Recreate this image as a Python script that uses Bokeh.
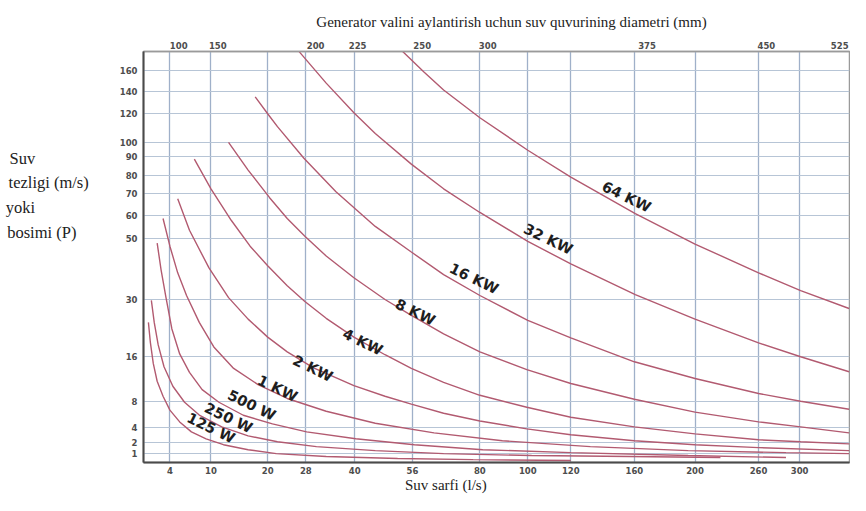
import numpy as np
from bokeh.plotting import figure
from bokeh.models import Range1d, FixedTicker, LinearAxis
from bokeh.core.properties import value
from bokeh.embed import file_html
from bokeh.resources import INLINE

# ---------------- data ----------------
flow_ticks = [4, 10, 20, 28, 40, 56, 80, 100, 120, 160, 200, 260, 300]          # Suv sarfi (l/s)
pressure_ticks = [1, 2, 4, 8, 16, 30, 50, 60, 70, 80, 90, 100, 120, 140, 160]   # P
diameter_labels = ["100", "150", "200", "225", "250", "300", "375", "450", "525"]  # mm

curve_names = ["125 W", "250 W", "500 W", "1 KW", "2 KW", "4 KW", "8 KW", "16 KW", "32 KW", "64 KW"]

q_125w = [0.86, 1.14, 1.57, 2.14, 3.0, 4.0, 5.43, 7.14, 9.29, 12.2, 16.55, 21.8, 33.0, 51.9, 77.6, 120]
p_125w = [24.4, 19.6, 14.8, 11.6, 8.9, 6.67, 4.9, 3.47, 2.53, 1.82, 1.36, 1.0, 0.73, 0.55, 0.45, 0.36]

q_250w = [1.29, 1.71, 2.29, 3.14, 4.43, 6.14, 8.29, 11.9, 16.55, 22.05, 30.6, 45.7, 67.1, 101.8, 157, 224]
p_250w = [29.8, 24.4, 18.9, 14.2, 10.7, 7.85, 5.93, 4.15, 2.93, 2.13, 1.64, 1.27, 1.0, 0.82, 0.73, 0.64]

q_500w = [2.14, 2.71, 3.43, 4.29, 5.43, 6.86, 8.71, 11.4, 15.7, 21.0, 28.2, 40.3, 56.7, 81.2, 120, 195.5, 286.7]
p_500w = [48.4, 39.7, 30.6, 22.8, 16.7, 13.2, 10.1, 7.85, 5.9, 4.6, 3.47, 2.53, 1.82, 1.36, 1.09, 0.82, 0.64]

q_1kw = [3.0, 4.0, 5.14, 6.43, 8.29, 10.5, 14.0, 18.3, 24.1, 33.0, 45.7, 63.7, 89.4, 132.3, 195.5, 286.7, 348.6]
p_1kw = [58.7, 47.4, 38.7, 31.3, 24.4, 18.4, 13.9, 11.0, 8.5, 6.5, 4.7, 3.33, 2.27, 1.64, 1.27, 1.09, 1.0]

q_2kw = [5.14, 6.86, 9.71, 13.1, 16.55, 20, 24.1, 29.9, 39.8, 48.4, 55.7, 67.1, 80, 99.6, 120, 160, 200, 260, 348.6]
p_2kw = [67.7, 53.5, 40.3, 30.6, 25.2, 20.8, 17.2, 14.0, 10.8, 8.9, 7.56, 6.2, 5.04, 3.87, 3.07, 2.27, 1.82, 1.55, 1.27]

q_4kw = [7.57, 10, 13.6, 16.9, 20, 24.1, 27.8, 33.0, 39.8, 48.4, 55.7, 67.1, 80, 99.6, 120, 160, 200, 260, 301, 348.6]
p_4kw = [88.5, 72.8, 57.8, 47.4, 41, 34.5, 29.5, 25.4, 20.8, 16.5, 13.9, 11.4, 9.07, 7.1, 5.6, 4.15, 3.2, 2.4, 2.13, 1.9]

q_8kw = [13.1, 16.55, 20.4, 24.1, 27.8, 33.0, 39.8, 48.4, 55.7, 67.1, 80, 99.6, 120, 160, 200, 260, 301, 348.6]
p_8kw = [100, 83, 68.2, 58.7, 50.9, 44.2, 37.1, 30, 26.1, 21.6, 17.2, 13.7, 11.2, 8.36, 6.37, 4.9, 4.15, 3.33]

q_16kw = [17.8, 20, 22.05, 27.6, 35.4, 45.7, 55.7, 67.1, 80, 100, 120, 160, 200, 260, 301, 348.6]
p_16kw = [134.8, 120, 111, 89, 71.1, 55.2, 45.5, 38.1, 31.3, 24.9, 20.6, 15.1, 12.1, 9.4, 8.0, 6.8]

q_32kw = [26.6, 33.0, 39.8, 45.7, 55.7, 67.1, 80, 100, 120, 160.6, 200, 260, 301, 348.6]
p_32kw = [178, 147.6, 120.9, 106.2, 86, 72.8, 61.4, 49.0, 41.6, 31.6, 25.2, 19.4, 16, 13.3]

q_64kw = [53.3, 60.2, 67.1, 80, 100, 120, 160.6, 200, 260, 301, 348.6]
p_64kw = [178, 158.1, 141, 117.2, 94.3, 79.4, 60.9, 48.1, 38.7, 32.9, 27.8]

label_q = [10, 13.1, 17.2, 22.05, 29.7, 42.2, 57, 77.9, 109.5, 155]
label_p = [4, 5.5, 7.4, 10.3, 13.9, 19.6, 26.9, 36.8, 49.7, 68.6]

curves_q = [q_125w, q_250w, q_500w, q_1kw, q_2kw, q_4kw, q_8kw, q_16kw, q_32kw, q_64kw]
curves_p = [p_125w, p_250w, p_500w, p_1kw, p_2kw, p_4kw, p_8kw, p_16kw, p_32kw, p_64kw]

y_title_lines = ["Suv", "tezligi (m/s)", "yoki", "bosimi (P)"]
x_title = "Suv sarfi  (l/s)"
top_title = "Generator valini aylantirish uchun suv quvurining diametri (mm)"

# ------------- nonlinear grid of the printed chart (axis layout) -------------
FLOW_ANCHORS = [0] + flow_ticks + [350]
FLOW_LAYOUT = [-1, 27, 69, 127, 166, 216, 275, 344, 393, 437, 502, 564, 629, 671, 723]
PRESS_ANCHORS = [0] + pressure_ticks + [180]
PRESS_LAYOUT = [-2, 9, 20, 35, 62, 107, 165, 227, 250, 272, 290, 310, 324, 353, 376, 397, 418]
DIAM_LAYOUT = [36, 76, 176, 219, 285, 352, 515, 637, 712]


def fx(q):
    return np.interp(np.asarray(q, dtype=float), FLOW_ANCHORS, FLOW_LAYOUT)


def fy(pv):
    return np.interp(np.asarray(pv, dtype=float), PRESS_ANCHORS, PRESS_LAYOUT)


p = figure(width=850, height=495, output_backend="svg", toolbar_location=None,
           x_range=Range1d(0, 722), y_range=Range1d(0, 416),
           min_border_left=143, min_border_right=1, min_border_top=51, min_border_bottom=31)
p.background_fill_color = "white"
p.border_fill_color = "white"
p.outline_line_color = "#9a9a9a"
p.outline_line_width = 1.5

x_pos = [float(v) for v in fx(flow_ticks)]
y_pos = [float(v) for v in fy(pressure_ticks)]
x_ticker = FixedTicker(ticks=x_pos)
y_ticker = FixedTicker(ticks=y_pos)

serif = "Liberation Serif"
NB = "\u00a0"

xa = p.xaxis[0]
xa.ticker = x_ticker
xa.major_label_overrides = {xp: str(v) for xp, v in zip(x_pos, flow_ticks)}
ya = p.yaxis[0]
ya.ticker = y_ticker
ya.major_label_overrides = {yp: str(v) for yp, v in zip(y_pos, pressure_ticks)}

for ax in (xa, ya):
    ax.axis_line_color = "#4a4a4a"
    ax.axis_line_width = 2
    ax.major_tick_in = 0
    ax.major_tick_out = 0
    ax.minor_tick_line_color = None
    ax.major_label_text_font = "DejaVu Sans"
    ax.major_label_text_font_style = "bold"
    ax.major_label_text_font_size = "8.5px"
    ax.major_label_text_color = "#4d4d4d"
    ax.axis_label_text_font = serif
    ax.axis_label_text_font_style = "normal"
    ax.axis_label_text_color = "#222222"
xa.major_label_standoff = 4
ya.major_label_standoff = 6

# bottom title (padded on the right so it sits left of the frame centre, as printed)
xa.axis_label = x_title + NB * 26
xa.axis_label_text_font_size = "15px"
xa.axis_label_standoff = 0

# left title: four left-aligned lines placed high on the left
pad_counts = [13, 0, 13, 3]
ya.axis_label = "\n".join(t + NB * n for t, n in zip(y_title_lines, pad_counts)) + "\n" * 5
ya.axis_label_orientation = "horizontal"
ya.axis_label_text_font_size = "16.5px"
ya.axis_label_text_line_height = 1.3
ya.axis_label_standoff = 28

top = LinearAxis(ticker=FixedTicker(ticks=DIAM_LAYOUT),
                 major_label_overrides={float(xp): s for xp, s in zip(DIAM_LAYOUT, diameter_labels)})
top.axis_line_color = "#9a9a9a"
top.axis_line_width = 1.5
top.major_tick_in = 0
top.major_tick_out = 0
top.minor_tick_line_color = None
top.major_label_text_font = "DejaVu Sans"
top.major_label_text_font_style = "bold"
top.major_label_text_font_size = "8.5px"
top.major_label_text_color = "#4d4d4d"
top.major_label_standoff = 3
top.axis_label = NB * 8 + top_title
top.axis_label_text_font = serif
top.axis_label_text_font_style = "normal"
top.axis_label_text_font_size = "15px"
top.axis_label_text_color = "#222222"
top.axis_label_standoff = 9
p.add_layout(top, "above")

p.xgrid[0].ticker = x_ticker
p.ygrid[0].ticker = y_ticker
p.xgrid.grid_line_color = "#9fb0c9"
p.xgrid.grid_line_width = 1.3
p.ygrid.grid_line_color = "#b7c5d6"
p.ygrid.grid_line_width = 1.2

for qs, ps in zip(curves_q, curves_p):
    p.line(fx(qs), fy(ps), line_color="#b25a70", line_width=1.4)

p.text(x=fx(label_q), y=fy(label_p), text=curve_names, angle=-0.45,
       text_font=value("DejaVu Sans"), text_font_style="bold", text_font_size="14.5px",
       text_align="center", text_baseline="middle", text_color="#1e1e1e")

open("out.html", "w").write(file_html(p, INLINE))
